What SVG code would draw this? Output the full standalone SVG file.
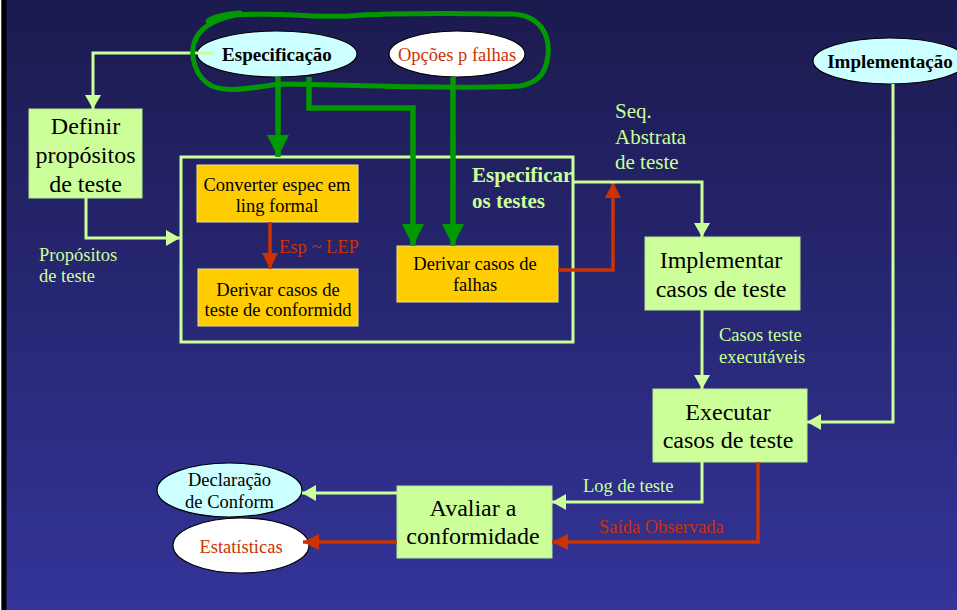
<svg xmlns="http://www.w3.org/2000/svg" width="957" height="610" viewBox="0 0 957 610">
<defs>
<linearGradient id="bg" x1="0" y1="0" x2="0" y2="1">
<stop offset="0" stop-color="#1b1a4e"/>
<stop offset="1" stop-color="#343499"/>
</linearGradient>
<marker id="ag" markerUnits="userSpaceOnUse" viewBox="0 0 14 16" refX="14" refY="8" markerWidth="14" markerHeight="16" orient="auto"><path d="M0,0 L14,8 L0,16 Z" fill="#ccff99"/></marker>
<marker id="ar" markerUnits="userSpaceOnUse" viewBox="0 0 16 16" refX="16" refY="8" markerWidth="16" markerHeight="16" orient="auto"><path d="M0,0 L16,8 L0,16 Z" fill="#cc3300"/></marker>
<marker id="aG" markerUnits="userSpaceOnUse" viewBox="0 0 22 22" refX="22" refY="11" markerWidth="22" markerHeight="22" orient="auto"><path d="M0,0 L22,11 L0,22 Z" fill="#009900"/></marker>
</defs>
<style>
text{font-family:"Liberation Serif","Times New Roman",serif;}
.box{fill:#ccff99;stroke:#b8e890;stroke-width:1;}
.obox{fill:#ffcc00;stroke:#e8e0a0;stroke-width:1;}
.ell{stroke:#000;stroke-width:1.2;}
.t24{font-size:24px;fill:#000;text-anchor:middle;}
.t18{font-size:18.5px;fill:#000;text-anchor:middle;}
.tb{font-size:19px;font-weight:bold;fill:#000;text-anchor:middle;}
.lab{font-size:18.5px;fill:#ccff99;}
.red{fill:#cc3300;}
.cg{fill:none;stroke:#ccff99;stroke-width:3;}
.cr{fill:none;stroke:#cc3300;stroke-width:3.5;}
.cG{fill:none;stroke:#009900;stroke-width:5.5;}
</style>
<rect x="0" y="0" width="957" height="610" fill="url(#bg)"/>
<rect x="0" y="0" width="1.5" height="610" fill="#ffffff"/>
<rect x="1.5" y="0" width="5" height="610" fill="#000000"/>

<g id="specbox">
<rect x="181" y="157" width="392" height="185" fill="none" stroke="#ccff99" stroke-width="3"/>
<text x="472" y="182" style="font-size:21px;font-weight:bold;fill:#ccff99">Especificar</text>
<text x="472" y="208" style="font-size:21px;font-weight:bold;fill:#ccff99">os testes</text>
</g>

<g id="especificacao">
<ellipse cx="277" cy="54" rx="80" ry="23" fill="#ccffff" class="ell"/>
<text x="277" y="61" class="tb">Especificação</text>
</g>
<g id="opcoes">
<ellipse cx="457" cy="54" rx="68" ry="23" fill="#ffffff" class="ell"/>
<text x="457" y="61" class="t18 red">Opções p falhas</text>
</g>
<g id="implementacao">
<ellipse cx="890" cy="61" rx="77" ry="23" fill="#ccffff" class="ell"/>
<text x="890" y="68" class="tb">Implementação</text>
</g>
<g id="definir">
<rect x="29" y="109" width="113" height="89" class="box"/>
<text x="85.5" y="134" class="t24">Definir</text>
<text x="85.5" y="163" class="t24">propósitos</text>
<text x="85.5" y="192" class="t24">de teste</text>
</g>
<g id="converter">
<rect x="197" y="165" width="161" height="57" class="obox"/>
<text x="277" y="191" class="t18">Converter espec em</text>
<text x="277" y="212" class="t18">ling formal</text>
</g>
<g id="conformidd">
<rect x="198" y="269" width="160" height="57" class="obox"/>
<text x="278" y="296" class="t18">Derivar casos de</text>
<text x="278" y="316" class="t18">teste de conformidd</text>
</g>
<g id="falhas">
<rect x="397" y="246" width="161" height="56" class="obox"/>
<text x="475" y="270" class="t18">Derivar casos de</text>
<text x="475" y="291" class="t18">falhas</text>
</g>
<g id="implementar">
<rect x="645" y="237" width="155" height="73" class="box"/>
<text x="721" y="268" class="t24">Implementar</text>
<text x="721" y="297" class="t24">casos de teste</text>
</g>
<g id="executar">
<rect x="653" y="389" width="154" height="73" class="box"/>
<text x="728" y="420" class="t24">Executar</text>
<text x="728" y="448" class="t24">casos de teste</text>
</g>
<g id="avaliar">
<rect x="397" y="486" width="155" height="72" class="box"/>
<text x="473" y="516" class="t24">Avaliar a</text>
<text x="473" y="544" class="t24">conformidade</text>
</g>
<g id="declaracao">
<ellipse cx="229.5" cy="490" rx="72.5" ry="27" fill="#ccffff" class="ell"/>
<text x="229.5" y="486" class="t18">Declaração</text>
<text x="229.5" y="508" class="t18">de Conform</text>
</g>
<g id="estatisticas">
<ellipse cx="241" cy="545.5" rx="68" ry="27.5" fill="#ffffff" class="ell"/>
<text x="241" y="553" class="t18 red">Estatísticas</text>
</g>

<g id="connectors">
<path d="M213,53 H93 V109" class="cg" marker-end="url(#ag)"/>
<path d="M86,198 V238 H180" class="cg" marker-end="url(#ag)"/>
<path d="M278,77 V157" class="cG" marker-end="url(#aG)"/>
<path d="M309,77 V108 H413 V246" class="cG" marker-end="url(#aG)"/>
<path d="M453,77 V246" class="cG" marker-end="url(#aG)"/>
<path d="M270,222 V269" class="cr" marker-end="url(#ar)"/>
<path d="M558,270 H613 V182" class="cr" marker-end="url(#ar)"/>
<path d="M573,182 H702 V237" class="cg" marker-end="url(#ag)"/>
<path d="M702,310 V389" class="cg" marker-end="url(#ag)"/>
<path d="M893,84 V422 H807" class="cg" marker-end="url(#ag)"/>
<path d="M702,462 V502 H552" class="cg" marker-end="url(#ag)"/>
<path d="M758,462 V542 H552" class="cr" marker-end="url(#ar)"/>
<path d="M397,493 H302" class="cg" marker-end="url(#ag)"/>
<path d="M397,542 H303" class="cr" marker-end="url(#ar)"/>
</g>

<g id="labels">
<text x="39" y="261" class="lab">Propósitos</text>
<text x="39" y="282" class="lab">de teste</text>
<text x="279" y="253" class="lab red">Esp ~ LEP</text>
<text x="615" y="118" class="lab" style="font-size:21px">Seq.</text>
<text x="615" y="144" class="lab" style="font-size:21px">Abstrata</text>
<text x="615" y="169" class="lab" style="font-size:21px">de teste</text>
<text x="719" y="341" class="lab">Casos teste</text>
<text x="719" y="363" class="lab">executáveis</text>
<text x="583" y="492" class="lab">Log de teste</text>
<text x="599" y="533" class="lab red">Saída Observada</text>
</g>

<g id="highlight">
<path d="M235,15 C280,12 320,18 350,16 C400,12 470,14 512,14 C540,15 550,35 548,55 C546,72 540,82 520,86 C450,90 330,84 280,84 C250,88 228,93 212,86 C196,78 190,58 194,43 C198,30 212,20 235,15 Z M208,21 C215,16 225,14 240,13" fill="none" stroke="#009900" stroke-width="5" stroke-linejoin="round" stroke-linecap="round"/>
</g>
</svg>
